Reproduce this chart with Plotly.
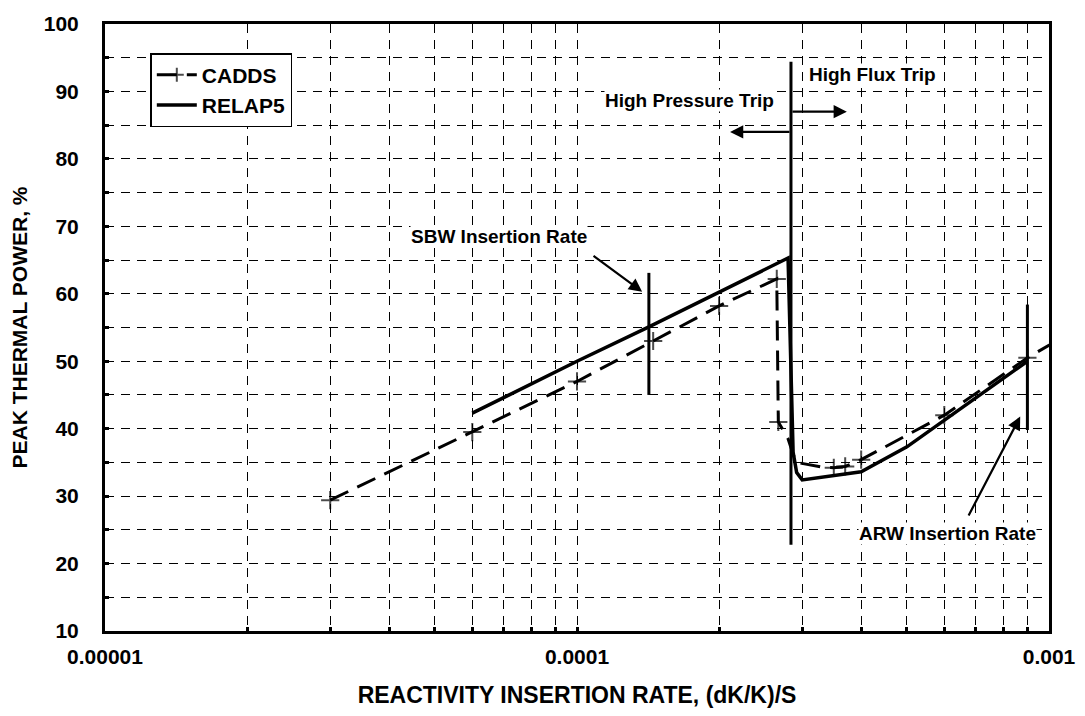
import math
import plotly.graph_objects as go

# CADDS results (dashed, + markers)
cadds_x = [3e-5, 6e-5, 1e-4, 1.45e-4, 2e-4, 2.65e-4, 2.67e-4, 2.8e-4, 2.87e-4, 2.92e-4,
           3.3e-4, 3.5e-4, 3.7e-4, 4.0e-4, 6.0e-4, 9.0e-4, 1.03e-3]
cadds_y = [29.4, 39.5, 47.0, 53.0, 58.2, 62.2, 41.0, 38.5, 36.2, 35.0,
           34.3, 34.2, 34.4, 35.4, 42.0, 50.5, 52.9]
cadds_mark = [1, 1, 1, 1, 1, 1, 1, 0, 0, 0, 0, 1, 1, 1, 1, 1, 1]

# RELAP5 results (solid)
relap_x = [6e-5, 1e-4, 1.42e-4, 2e-4, 2.8e-4, 2.87e-4, 2.92e-4, 3.0e-4, 4.0e-4, 5.0e-4, 5.9e-4, 9.0e-4]
relap_y = [42.3, 50.0, 55.1, 60.3, 65.3, 36.5, 33.5, 32.4, 33.6, 37.3, 40.9, 50.0]

# vertical marker lines
trip_x = [2.84e-4, 2.84e-4]
trip_y = [22.8, 94.4]
sbw_x = [1.42e-4, 1.42e-4]
sbw_y = [45.0, 63.1]
arw_x = [9.0e-4, 9.0e-4]
arw_y = [39.8, 58.4]

# axis ticks
x_major = [1e-5, 1e-4, 1e-3]
x_labels = ["0.00001", "0.0001", "0.001"]
y_major = list(range(10, 101, 10))

FONT = "Liberation Sans, Arial, sans-serif"

x_ticks = []
x_text = []
for dec in [1e-5, 1e-4]:
    for m in range(1, 10):
        x_ticks.append(m * dec)
        x_text.append(x_labels[x_major.index(dec)] if m == 1 else "")
x_ticks.append(1e-3)
x_text.append(x_labels[2])

y_ticks = list(range(10, 101, 5))
y_text = [str(v) if v in y_major else "" for v in y_ticks]

fig = go.Figure()

fig.add_trace(go.Scatter(
    x=cadds_x, y=cadds_y, name="CADDS",
    mode="lines+markers",
    line=dict(color="black", width=3, dash="20px,10px"),
    marker=dict(symbol="cross-thin", size=[13 if m else 0 for m in cadds_mark],
                line=dict(color="black", width=2)),
    cliponaxis=False,
))

fig.add_trace(go.Scatter(
    x=relap_x, y=relap_y, name="RELAP5",
    mode="lines",
    line=dict(color="black", width=3.5),
))

for lx, ly in [(trip_x, trip_y), (sbw_x, sbw_y), (arw_x, arw_y)]:
    fig.add_trace(go.Scatter(x=lx, y=ly, mode="lines", showlegend=False,
                             line=dict(color="black", width=3)))

ann_font = dict(family=FONT, size=19, color="black", weight="bold")

def lg(v):
    return math.log10(v)

# text labels
texts = [
    ("High Pressure Trip", 1.734e-4, 88.6),
    ("High Flux Trip", 4.22e-4, 92.5),
    ("SBW Insertion Rate", 6.84e-5, 68.5),
    ("ARW Insertion Rate", 6.08e-4, 24.5),
]
for t, tx, ty in texts:
    fig.add_annotation(x=lg(tx), y=ty, text=t, showarrow=False, font=ann_font,
                       bgcolor="white", xref="x", yref="y", borderpad=0)

# arrows: (tail, head)
arrows = [
    ((2.84e-4, 84.0), (2.11e-4, 84.0)),
    ((2.84e-4, 87.0), (3.73e-4, 87.0)),
    ((1.076e-4, 65.8), (1.374e-4, 60.3)),
    ((6.73e-4, 26.9), (8.69e-4, 41.8)),
]
for (tx, ty), (hx, hy) in arrows:
    fig.add_annotation(x=lg(hx), y=hy, ax=lg(tx), ay=ty, xref="x", yref="y",
                       axref="x", ayref="y", text="", showarrow=True,
                       arrowhead=2, arrowsize=1.2, arrowwidth=2.2, arrowcolor="black")

axis_common = dict(
    showline=True, linewidth=3, linecolor="black", mirror=True,
    showgrid=True, gridcolor="black", gridwidth=1, griddash="9px,7px",
    ticks="inside", ticklen=4, tickwidth=3, tickcolor="black",
    tickfont=dict(family=FONT, size=21, color="black", weight="bold"),
    zeroline=False, automargin=False,
)

fig.update_xaxes(
    type="log", range=[-5, -3],
    tickmode="array", tickvals=x_ticks, ticktext=x_text,
    title=dict(text="REACTIVITY INSERTION RATE, (dK/K)/S", standoff=22,
               font=dict(family=FONT, size=23, color="black", weight="bold")),
    ticklabelstandoff=5,
    **axis_common,
)
fig.update_yaxes(
    range=[10, 100],
    tickmode="array", tickvals=y_ticks, ticktext=y_text,
    title=dict(text="PEAK THERMAL POWER, %", standoff=14,
               font=dict(family=FONT, size=21, color="black", weight="bold")),
    ticklabelstandoff=19,
    **axis_common,
)

# page body has an 8px margin, so the figure is sized to fit inside it
fig.update_layout(
    width=1069, height=700,
    margin=dict(l=97, r=28, t=16, b=77),
    plot_bgcolor="white", paper_bgcolor="white",
    font=dict(family=FONT, color="black"),
    legend=dict(
        x=0.048, y=0.952, xanchor="left", yanchor="top",
        bgcolor="white", bordercolor="black", borderwidth=1.5,
        font=dict(family=FONT, size=21, color="black", weight="bold"),
        tracegroupgap=0, itemwidth=40,
    ),
)

fig.write_html("out.html")
